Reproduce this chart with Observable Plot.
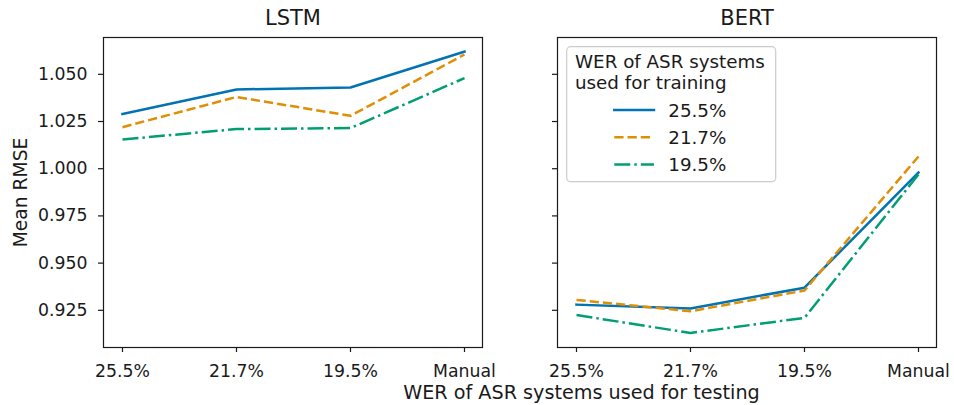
<!DOCTYPE html>
<html>
<head>
<meta charset="utf-8">
<script src="https://cdn.jsdelivr.net/npm/d3@7"></script>
<script src="https://cdn.jsdelivr.net/npm/@observablehq/plot@0.6"></script>
<style>
  body { margin: 0; background: white; }
  #chart { position: relative; width: 954px; height: 405px; background: white; }
  #chart svg { position: absolute; left: 0; top: 0; font-family: "DejaVu Sans", sans-serif !important; font-size: 17.3px !important; background: transparent !important; overflow: visible !important; }
</style>
</head>
<body>
<div id="chart"></div>
<script>
// Test conditions (x categories)
const categories = ["25.5%", "21.7%", "19.5%", "Manual"];
// Training conditions (series)
const trainingWER = ["25.5%", "21.7%", "19.5%"];
const seriesColors = ["#0173b2", "#de8f05", "#029e73"];
const seriesDashes = [null, "9.25,4", "16,4,2.5,4"];

// LSTM panel values
const lstm255 = [1.029, 1.042, 1.043, 1.062];
const lstm217 = [1.022, 1.038, 1.028, 1.0605];
const lstm195 = [1.0155, 1.021, 1.0215, 1.048];
// BERT panel values
const bert255 = [0.928, 0.926, 0.937, 0.998];
const bert217 = [0.9305, 0.9245, 0.9355, 1.0065];
const bert195 = [0.9225, 0.913, 0.921, 0.997];

const yTicks = [0.925, 0.950, 0.975, 1.000, 1.025, 1.050];
const yDomain = [0.9053, 1.0695];

const titles = ["LSTM", "BERT"];
const yLabel = "Mean RMSE";
const xLabel = "WER of ASR systems used for testing";
const legendTitle = ["WER of ASR systems", "used for training"];

function toRows(values) {
  return categories.map((c, i) => ({test: c, rmse: values[i]}));
}

const FONT = "DejaVu Sans, sans-serif";
const INK = "#1a1a1a";

function panel(title, seriesValues, opts) {
  const lines = seriesValues.map((vals, k) => Plot.line(toRows(vals), {
    x: "test", y: "rmse",
    stroke: seriesColors[k], strokeWidth: 2.5,
    strokeDasharray: seriesDashes[k] ?? undefined,
    strokeLinecap: seriesDashes[k] ? "butt" : "square",
    strokeLinejoin: "round"
  }));
  return Plot.plot({
    width: 954, height: 405,
    marginTop: 37, marginBottom: 58,
    marginLeft: opts.marginLeft, marginRight: opts.marginRight,
    style: {fontFamily: FONT, fontSize: "17.3px", color: INK, background: "transparent", overflow: "visible"},
    x: {type: "point", domain: categories, padding: 0.15},
    y: {domain: yDomain},
    marks: [
      Plot.axisX({tickSize: 5, tickPadding: 12, label: null, stroke: INK, strokeWidth: 1.2, fontSize: 17.3}),
      Plot.axisY({ticks: yTicks, tickSize: 5, tickPadding: 11, label: null, stroke: INK, strokeWidth: 1.2, fontSize: 17.3,
        tickFormat: opts.yLabels ? d3.format(".3f") : () => ""}),
      ...lines,
      Plot.frame({stroke: INK, strokeWidth: 1.2}),
      Plot.text([title], {frameAnchor: "top", dy: -19, lineAnchor: "middle", fontSize: 21, fill: INK}),
      ...(opts.extra || [])
    ]
  });
}

const left = panel(titles[0], [lstm255, lstm217, lstm195], {
  marginLeft: 103, marginRight: 954 - 482, yLabels: true,
  extra: [
    Plot.text([yLabel], {frameAnchor: "left", rotate: -90, dx: -90, lineAnchor: "top", textAnchor: "middle", fontSize: 18.7, fill: INK}),
    Plot.text([xLabel], {frameAnchor: "bottom", dx: 288.5, dy: 45.5, lineAnchor: "middle", fontSize: 19.2, fill: INK})
  ]
});
const right = panel(titles[1], [bert255, bert217, bert195], {
  marginLeft: 557, marginRight: 954 - 936, yLabels: false
});

const chart = document.getElementById("chart");
chart.appendChild(left);
chart.appendChild(right);

// Legend (inside BERT panel, upper left)
const lg = d3.select(right).append("g")
  .attr("font-family", FONT).attr("font-size", 18.3).attr("fill", INK)
  .attr("text-anchor", "start");
lg.append("rect")
  .attr("x", 566.7).attr("y", 46.7).attr("width", 209).attr("height", 135)
  .attr("rx", 4).attr("fill", "white").attr("fill-opacity", 0.8)
  .attr("stroke", "#cccccc").attr("stroke-width", 1.2);
legendTitle.forEach((t, i) => {
  lg.append("text").attr("x", 575).attr("y", 68.3 + i * 20.6).text(t);
});
trainingWER.forEach((name, k) => {
  const yy = 110 + k * 27.2;
  const ln = lg.append("line")
    .attr("x1", 614.3).attr("x2", 654).attr("y1", yy).attr("y2", yy)
    .attr("stroke", seriesColors[k]).attr("stroke-width", 2.5)
    .attr("stroke-linecap", seriesDashes[k] ? "butt" : "square");
  if (seriesDashes[k]) ln.attr("stroke-dasharray", seriesDashes[k]);
  lg.append("text").attr("x", 668.3).attr("y", yy + 6.5).text(name);
});
</script>
</body>
</html>
